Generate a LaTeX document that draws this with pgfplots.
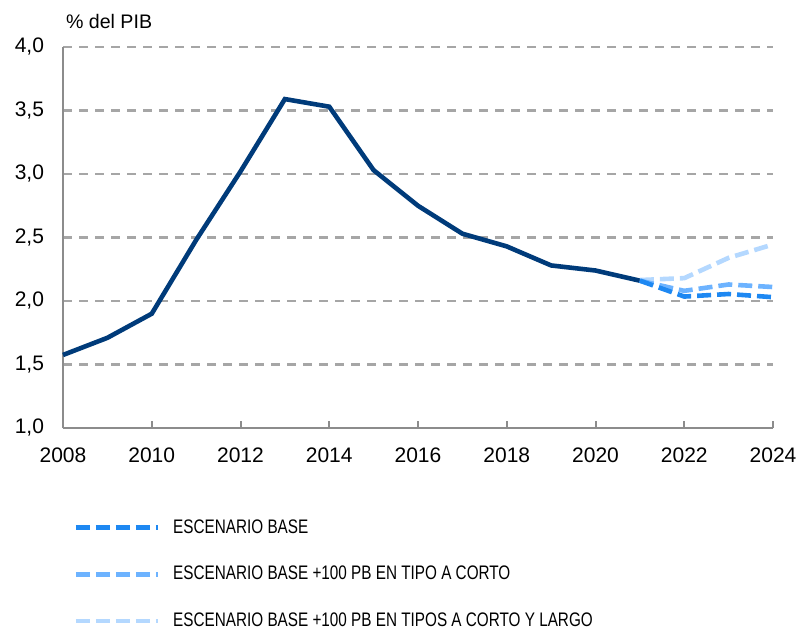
\documentclass[border=0pt]{standalone}
\usepackage{fontspec}
\setmainfont{Liberation Sans}
\newfontfamily\narrowfont[FakeStretch=0.78]{Liberation Sans}
\usepackage{pgfplots}
\pgfplotsset{compat=1.18}
\definecolor{navy}{HTML}{003B7A}
\definecolor{basec}{HTML}{1E88F2}
\definecolor{midc}{HTML}{6DB3FF}
\definecolor{lightc}{HTML}{B4D8FF}
\definecolor{gridc}{HTML}{A6A6A6}
\definecolor{axisc}{HTML}{8C8C8C}

\begin{document}
\begin{tikzpicture}
\path[use as bounding box] (-31.5bp,-100bp) rectangle (368.5bp,214bp);
\begin{axis}[
  at={(0,0)}, anchor=south west,
  scale only axis,
  width=355bp, height=190.5bp,
  xmin=2008, xmax=2024,
  ymin=1, ymax=4,
  xtick={2008,2010,...,2024},
  ytick={1,1.5,...,4},
  axis lines=left,
  axis line style={-, axisc, line width=1bp},
  tick align=inside,
  xtick style={axisc, line width=1bp},
  major tick length=3.5bp,
  ytick style={draw=none},
  ymajorgrids=true,
  grid style={gridc, line width=1.1bp, dash pattern=on 4.5bp off 3.5bp},
  tick label style={font=\fontsize{10.5bp}{12bp}\selectfont},
  /pgf/number format/assume math mode=true,
  x tick label style={/pgf/number format/1000 sep={}, yshift=-6.5bp},
  y tick label style={/pgf/number format/.cd, use comma, fixed, fixed zerofill, precision=1, /tikz/.cd, xshift=-6bp},
  clip=false,
  reverse legend,
  legend style={at={(axis description cs:0.006,-0.223)}, anchor=north west,
    draw=none, fill=none, row sep=13bp, column sep=5.5bp,
    font=\narrowfont\fontsize{9.8bp}{11bp}\selectfont,
    nodes={inner sep=1bp}},
  legend cell align=left,
  legend image code/.code={\draw[#1] (0bp,0bp) -- (41bp,0bp);},
]
\addplot[navy, line width=2.3bp, forget plot] coordinates {
 (2008,1.575) (2009,1.71) (2010,1.90) (2011,2.48) (2012,3.02) (2013,3.59)
 (2014,3.53) (2015,3.03) (2016,2.75) (2017,2.53) (2018,2.43) (2019,2.28)
 (2020,2.24) (2021,2.16)};
\addplot[lightc, line width=2.3bp, dash pattern=on 7bp off 3bp] coordinates {
 (2021,2.165) (2022,2.18) (2023,2.34) (2024,2.445)};
\addplot[midc, line width=2.3bp, dash pattern=on 7bp off 3bp] coordinates {
 (2021,2.16) (2022,2.08) (2023,2.13) (2024,2.11)};
\addplot[basec, line width=2.3bp, dash pattern=on 7bp off 3bp] coordinates {
 (2021,2.16) (2022,2.035) (2023,2.055) (2024,2.03)};
\legend{ESCENARIO BASE +100 PB EN TIPOS A CORTO Y LARGO, ESCENARIO BASE +100 PB EN TIPO A CORTO, ESCENARIO BASE}
\node[anchor=base west, font=\fontsize{9.8bp}{11bp}\selectfont] at ([xshift=-2bp, yshift=9bp]rel axis cs:0,1) {\% del PIB};
\end{axis}
\end{tikzpicture}
\end{document}
